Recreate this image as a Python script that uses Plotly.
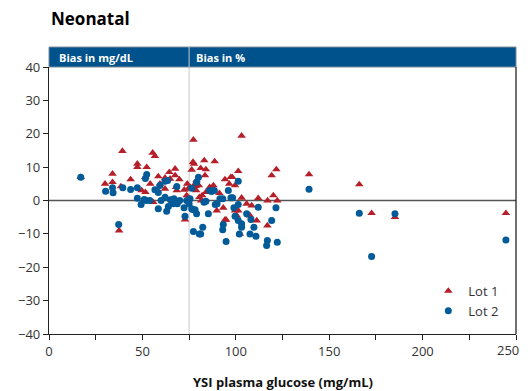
import plotly.graph_objects as go

# Lot 1 (triangles): YSI glucose (mg/dL) and bias
lot1_x = [17, 30, 34, 34, 37.5, 38.5, 39.3, 43.7, 47.3, 47.3, 49.6, 51.5, 51.6, 52.3, 54.2, 55.5, 56.7, 55.8,
          58.5, 58, 59.4, 62.1, 62.1, 64.4, 64.8, 67.5, 67.5, 68, 69.8, 68.4, 72.4, 73.7, 72.8, 74, 74.5, 76.4,
          77.1, 77.3, 77.6, 78.5, 78.8, 79, 78.2, 80.2, 75.5, 81.2, 84, 83.5, 83.1, 88.7, 80.5, 81.5, 82, 84,
          85.3, 87, 88, 86, 91.2, 89.8, 93.3, 94.2, 94.8, 94.2, 96.5, 97.3, 98.1, 99.6, 101.3, 103.1, 99.6,
          101.3, 100.5, 102.2, 103.1, 105.8, 107.6, 108.5, 111.2, 112, 116.9, 117, 119.2, 120.1, 121.7, 122.2,
          139.2, 166.1, 172.7, 185.2, 244.6]
lot1_y = [7, 5, 8, 5.5, -9, 4.2, 14.8, 6.3, 11, 10, 3, 7, 2.5, 10, 5, 14.3, 13.3, -0.5,
          7.2, 3, 5, 6.8, 3.5, 8.5, 6.5, 9.5, 7.5, 4, 6.3, 3, 3.2, 1.5, -5.7, 5, 3.5, 9.2,
          11.5, 18.2, 11, 4.3, 3, 6, 5, 4.5, 4, 9.7, 9.3, 7.5, 12, 11.7, 1, 0, 1.5, 2.5,
          2.5, 3.5, 4.5, 4, 2.2, -3, -2.2, -5.8, -5.8, 6.3, 5, 7, 7, 4.5, 8.8, 19.4, -3,
          -3, -4.5, -10, 0.8, -1, -4.5, -1.5, -6, 0.7, -7.5, 0, 7.5, 1.5, 9.3, 0,
          7.8, 4.8, -3.8, -5, -3.8]

# Lot 2 (circles)
lot2_x = [17, 30.3, 34, 34.3, 37.3, 39.5, 43.7, 47.3, 47.3, 49.3, 51, 52, 52.3, 51.6, 54, 56.7, 58.5, 58.5,
          59.4, 60, 62.1, 62.1, 63.5, 63.9, 63, 65, 66.9, 66.5, 68.7, 68.4, 70, 72.3, 72.8, 73.7, 75, 75.5,
          76.4, 76.9, 78.2, 79, 77.3, 80.5, 80, 79, 76.4, 82.3, 81.2, 83, 84, 85.3, 86, 87, 88.5, 89, 90,
          91.5, 93, 93.3, 93, 94.8, 96, 97.4, 98.3, 99, 99.6, 101.3, 101.3, 101.3, 101.9, 103.1, 103.1, 105.8,
          108.1, 107.6, 109.7, 110.8, 112, 116.9, 116.5, 119.2, 121.5, 122.2, 139.2, 166.1, 172.7, 185.2, 244.6]
lot2_y = [7, 2.8, 3.8, 2.3, -7.2, 3.8, 3.3, 3.8, 0.7, -1.2, 0.3, 0, 7.8, 6.6, 0, 3.2, -2.5, 2.4,
          4.5, 0, 5.8, 1, 6, -1.8, -3.2, 0.2, 0.5, -1, -1, 4.2, 0, -2.2, -4.7, 0, -1, 0.5,
          -2.5, -2.7, -2.8, -4, -9.3, -10, 7, 5.5, 3.7, -8, -10, -0.5, -0.2, -4, 3, 2.7, 3, -1.2, -1,
          0.5, 0.5, -7.2, -8.8, -12.3, 3, 0.8, 0.8, -2.2, -4.7, -1.2, -6, 5.8, -10, -7, -8, -4,
          -5.7, -10, -8, -10.7, -2, -12, -13.5, -6, -2.2, -12.5, 3.4, -3.8, -16.8, -4, -11.8]

x_ticks = [0, 25, 50, 75, 100, 125, 150, 175, 200, 225, 250]
x_labels = ["0", "", "50", "", "100", "", "150", "", "200", "", ""]
x_last_label = "250"
y_ticks = [-40, -30, -20, -10, 0, 10, 20, 30, 40]

RED = "#b41f2a"
BLUE = "#005b98"
BAND = "#00528c"

fig = go.Figure()
fig.add_trace(go.Scatter(x=lot1_x, y=lot1_y, mode="markers", name="Lot 1",
                         marker=dict(symbol="triangle-up", size=7.5, color=RED)))
fig.add_trace(go.Scatter(x=lot2_x, y=lot2_y, mode="markers", name="Lot 2",
                         marker=dict(symbol="circle", size=7, color=BLUE)))

PLOT_H = 267.5
band_h = 20 / PLOT_H
# header band
fig.add_shape(type="rect", xref="paper", yref="paper", x0=0, x1=1, y0=1, y1=1 + band_h,
              fillcolor=BAND, line=dict(color="#7a8a99", width=1), layer="above")
# divider at 75 mg/dL
fig.add_shape(type="line", xref="x", yref="paper", x0=75, x1=75, y0=0, y1=1 + band_h,
              line=dict(color="#c8c8c8", width=1), layer="below")
fig.add_shape(type="line", xref="x", yref="paper", x0=75, x1=75, y0=1, y1=1 + band_h,
              line=dict(color="#c8c8c8", width=1), layer="above")
# zero line
fig.add_shape(type="line", xref="paper", yref="y", x0=0, x1=1, y0=0, y1=0,
              line=dict(color="#555555", width=1.5), layer="below")
# right border
fig.add_shape(type="line", xref="paper", yref="paper", x0=1, x1=1, y0=0, y1=1,
              line=dict(color="#111111", width=1.2), layer="above")

fig.add_annotation(xref="paper", yref="paper", x=0.017, y=1 + band_h / 2, xanchor="left", yanchor="middle",
                   text="<b>Bias in mg/dL</b>", showarrow=False,
                   font=dict(family="Open Sans", size=11, color="white"))
fig.add_annotation(xref="x", yref="paper", x=75, y=1 + band_h / 2, xanchor="left", yanchor="middle",
                   xshift=5, text="<b>Bias in %</b>", showarrow=False,
                   font=dict(family="Open Sans", size=11, color="white"))
fig.add_annotation(xref="paper", yref="paper", x=0.0, y=1 + 48.5 / PLOT_H, xanchor="left", yanchor="middle",
                   text="<b>Neonatal</b>", showarrow=False,
                   font=dict(family="Open Sans", size=17, color="black"))
fig.add_annotation(xref="paper", yref="paper", x=0.5, y=-48 / PLOT_H, xanchor="center", yanchor="middle",
                   text="<b>YSI plasma glucose (mg/mL)</b>", showarrow=False,
                   font=dict(family="Open Sans", size=13, color="#111111"))
# last x tick label, nudged left so it stays inside the window
fig.add_annotation(xref="x", yref="paper", x=x_ticks[-1], y=-16 / PLOT_H, xanchor="center", yanchor="middle",
                   xshift=-8, text=x_last_label, showarrow=False,
                   font=dict(family="Open Sans", size=13, color="#333333"))

# page body has an 8px default margin, so the figure is 8px smaller than the window
fig.update_layout(
    width=523, height=383,
    margin=dict(l=41, r=15, t=58.5, b=57),
    paper_bgcolor="white", plot_bgcolor="white",
    showlegend=True,
    legend=dict(x=0.975, y=0.03, xanchor="right", yanchor="bottom",
                bgcolor="rgba(0,0,0,0)", font=dict(family="Open Sans", size=13, color="#333333"),
                itemsizing="trace", tracegroupgap=0),
    font=dict(family="Open Sans", color="#333333"),
)
fig.update_xaxes(range=[0, 250], tickvals=x_ticks, ticktext=x_labels, ticks="outside", ticklen=5,
                 tickcolor="#222222", showline=True, linecolor="#222222", linewidth=1.2,
                 showgrid=False, zeroline=False, tickfont=dict(size=13, color="#333333"),
                 automargin=False)
fig.update_yaxes(range=[-40, 40], tickvals=y_ticks, ticks="outside", ticklen=5, tickcolor="#222222",
                 showline=True, linecolor="#222222", linewidth=1.2, showgrid=False, zeroline=False,
                 automargin=False, tickfont=dict(size=13, color="#333333"))

fig.write_html("out.html",
               post_script="document.documentElement.style.overflow='hidden';"
                           "document.body.style.overflow='hidden';")
